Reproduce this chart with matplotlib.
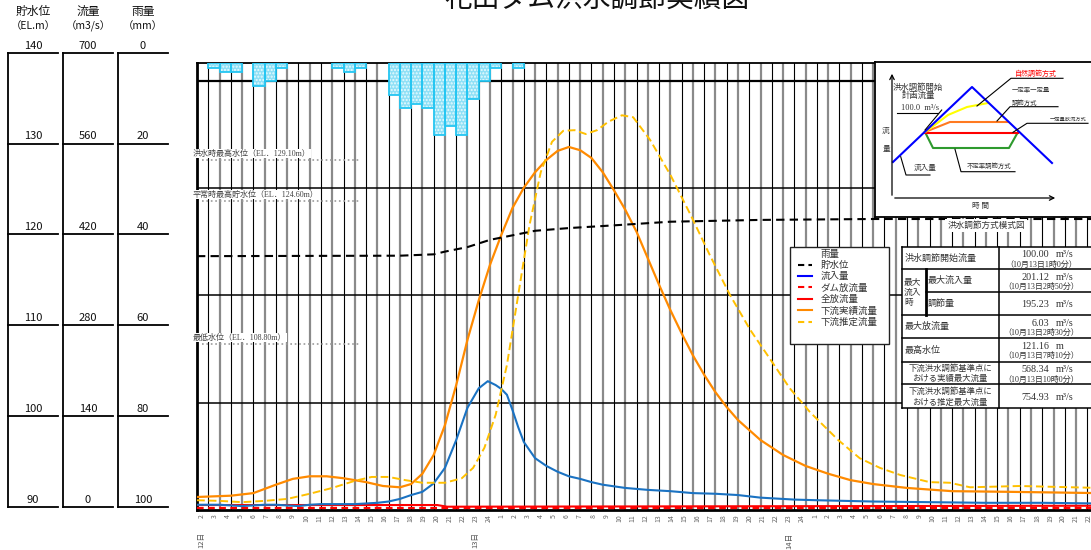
import numpy as np
import matplotlib
matplotlib.use("Agg")
import matplotlib.pyplot as plt
import matplotlib.transforms as mtransforms
from matplotlib.lines import Line2D
from matplotlib.patches import Rectangle

plt.rcParams['font.family'] = ['Noto Sans CJK JP', 'DejaVu Sans']
plt.rcParams['hatch.linewidth'] = 1.0

# ---------------- data (time = hours since 10/12 1:00) ----------------
rain_mm = [0, 1, 2, 2, 0, 5, 4, 1, 0, 0, 0, 0, 1, 2, 1, 0, 0,
           7, 10, 9, 10, 16, 14, 16, 8, 4, 1, 0, 1]

inflow_h = [0, 1, 2, 3, 4, 5, 6, 7, 8, 9, 10, 11, 12, 13, 14, 15, 16, 17, 18, 19,
            20, 21, 22, 23, 24, 25, 25.8, 26.5, 27, 27.5, 28, 28.5, 29,
            30, 31, 32, 33, 34, 35, 36, 38, 40, 42, 44, 46, 48, 50,
            53, 55, 60, 65, 70, 75, 80]
inflow_q = [5, 5, 5, 4, 3, 4, 5, 5, 4, 3, 5, 6, 6, 6, 6, 7, 8, 10, 14, 20,
            25, 38, 62, 105, 155, 185, 196, 190, 184, 175, 151, 125, 102,
            77, 65, 56, 49, 45, 40, 36, 31, 28, 26, 23, 22, 20, 16,
            13, 12, 10, 9, 8, 8, 7]

actual_h = [0, 3, 5, 7, 8.5, 10, 11.5, 13, 15, 16.5, 18,
            19, 20, 21, 22, 23, 24, 25, 26, 27, 28,
            29, 30, 31, 32, 33, 34, 35, 36, 37, 38,
            39, 40, 41, 42, 43, 44, 45, 46, 47, 48,
            50, 52, 54, 56, 58, 60, 63, 67, 72, 80]
actual_q = [17, 19, 23, 36, 45, 49, 49, 46, 40, 34, 32,
            37, 53, 82, 128, 190, 260, 321, 376, 422, 464,
            495, 519, 538, 552, 558, 553, 541, 519, 491, 461,
            427, 386, 345, 306, 270, 236, 206, 179, 156, 136,
            105, 82, 65, 53, 43, 37, 31, 26, 25, 23]

estim_h = [0, 2, 4, 6, 8, 10, 12, 14, 15.5, 17, 18.5, 20, 22, 23.5,
           24.5, 25.5, 26.5, 27.5, 28.5, 29.5, 30.5, 31.5, 32.5, 33.5, 34.5, 35.5, 36.5,
           37.7, 38.7, 40.2, 42, 43.8, 45.5, 47.3, 49.1, 50.9, 52.6, 54.4, 56.9,
           58.8, 60.6, 62.4, 65, 66.8, 68.6, 73, 80]
estim_q = [12, 11, 9, 11, 14, 22, 31, 42, 48, 48, 43, 39, 39, 46,
           62, 93, 144, 221, 329, 437, 519, 566, 583, 584, 578, 584, 597,
           607, 604, 569, 515, 453, 391, 329, 275, 229, 185, 148, 105,
           77, 62, 51, 40, 39, 32, 34, 31]

level_h = [0, 18, 21, 22, 24, 26, 28, 30, 33, 37, 42, 50, 60, 80]
level_m = [117.8, 117.85, 118.0, 118.3, 118.8, 119.6, 120.1, 120.6, 120.9,
           121.2, 121.6, 121.8, 121.9, 121.9]

total_h = [0, 21.3, 22.2, 80]
total_q = [4.6, 4.6, 2.0, 3.5]
dam_h = [0, 80]
dam_q = [0.5, 0.5]

ref_names = ['洪水時最高水位', '平常時最高貯水位', '最低水位']
ref_levels = [129.10, 124.60, 108.80]

hour_labels = ([str(h) for h in range(2, 25)] + [str(h) for h in range(1, 25)]
               + [str(h) for h in range(1, 23)])
day_labels = ['12日', '13日', '14日']
day_label_at = [0, 21, 45]

level_ticks = [140, 130, 120, 110, 100, 90]
flow_ticks = [700, 560, 420, 280, 140, 0]
rain_ticks = [0, 20, 40, 60, 80, 100]

table_labels = ['洪水調節開始流量', '最大流入量', '調節量', '最大放流量', '最高水位',
                '下流洪水調節基準点に\nおける実績最大流量',
                '下流洪水調節基準点に\nおける推定最大流量']
table_values = ['100.00', '201.12', '195.23', '6.03', '121.16', '568.34', '754.93']
table_units = ['m³/s', 'm³/s', 'm³/s', 'm³/s', 'm', 'm³/s', 'm³/s']
table_dates = ['（10月13日1時0分）', '（10月13日2時50分）', '', '（10月13日2時30分）',
               '（10月13日7時10分）', '（10月13日10時0分）', '']

# ---------------- figure ----------------
W, H = 1091, 550
fig = plt.figure(figsize=(W / 100, H / 100), dpi=100)
fig.patch.set_facecolor('white')


def px_axes(x0, y0, x1, y1, **kw):
    return fig.add_axes([x0 / W, 1 - y1 / H, (x1 - x0) / W, (y1 - y0) / H], **kw)


def strip(a):
    for s in a.spines.values():
        s.set_visible(False)
    a.tick_params(left=False, bottom=False, labelleft=False, labelbottom=False,
                  top=False, right=False, labeltop=False, labelright=False)


BLUE = '#1a72c2'
ORANGE = '#ff8a00'
YELLOW = '#ffc000'
RED = '#ff0000'
TXT = '#333333'
SERIF = ['Liberation Serif', 'Noto Sans CJK JP']

# title (cut at top of the image, as in the original)
fig.text(597 / W, 1 + 1 / H, '花山ダム洪水調節実績図', ha='center', va='center',
         fontsize=20, color='#111111')

# ---------------- left scale panels ----------------
panels = [(8, '貯水位', '（EL.m）', level_ticks, (90, 140)),
          (63, '流量', '（m3/s）', flow_ticks, (0, 700)),
          (118, '雨量', '（mm）', rain_ticks, (100, 0))]
for x0, head, unit, ticks, lim in panels:
    pa = px_axes(x0, 52.7, x0 + 50, 506.7)
    pa.set_ylim(*lim)
    pa.set_xlim(0, 1)
    pa.patch.set_visible(False)
    strip(pa)
    pa.spines['left'].set_visible(True)
    pa.spines['left'].set_linewidth(1.3)
    for t in ticks:
        pa.axhline(t, 0, 1, color='black', lw=1.3, clip_on=False)
        pa.annotate(str(t), (0.5, t), xytext=(0, 1.5), textcoords='offset points',
                    ha='center', va='bottom', fontsize=8, color='#111111',
                    annotation_clip=False)
    fig.text((x0 + 25) / W, 1 - 11 / H, head, ha='center', va='center',
             fontsize=8.5, color='#111111')
    fig.text((x0 + 25) / W, 1 - 26 / H, unit, ha='center', va='center',
             fontsize=7.5, color='#111111')

# ---------------- main axes ----------------
X0, X1, Y0, Y1 = 197, 1100, 63, 510
PX_PER_H = 11.27
ax = px_axes(X0, Y0, X1, Y1)
ax.set_xlim(0, (X1 - X0) / PX_PER_H)
ax.set_ylim(-3.1, 687.8)
ax.set_xticks([])
ax.set_yticks([])
for s in ['left', 'bottom']:
    ax.spines[s].set_linewidth(2.0)
ax.spines['top'].set_linewidth(1.3)
ax.spines['right'].set_visible(False)

nh = int(ax.get_xlim()[1]) + 1
for h in range(1, nh):
    if h % 2:
        ax.axvline(h, color='black', lw=0.8, zorder=0.5)
    else:
        ax.axvline(h, color='#8a8a8a', lw=1.6, zorder=0.5)
hgrid = [163, 329, 494, 660]
for i, g in enumerate(hgrid):
    ax.axhline(g, color='black', lw=1.6 if i == len(hgrid) - 1 else 1.1, zorder=0.6)

ax.plot(dam_h, dam_q, color=RED, lw=1.6, dashes=(3, 2), zorder=3, clip_on=False)
ax.plot(total_h, total_q, color=RED, lw=1.5, zorder=3)
ax.plot(inflow_h, inflow_q, color=BLUE, lw=1.5, zorder=3)
ax.plot(actual_h, actual_q, color=ORANGE, lw=1.6, zorder=3)
ax.plot(estim_h, estim_q, color=YELLOW, lw=1.4, dashes=(4, 2), zorder=3)

# rain (hanging from the top)
ax_rn = ax.twinx()
ax_rn.set_ylim(98.7, 0)
strip(ax_rn)
ax_rn.patch.set_visible(False)
idx = [i for i, r in enumerate(rain_mm) if r > 0]
vals = [rain_mm[i] for i in idx]
ax_rn.bar(idx, vals, width=1, align='edge', color='#8fe0f6', edgecolor='#e8fbff',
          hatch='.....', lw=0, zorder=2)
ax_rn.bar(idx, vals, width=1, align='edge', fill=False, edgecolor='#25c6f2',
          lw=1.3, zorder=2.1)

# water level
ax_lv = ax.twinx()
ax_lv.set_ylim(89.78, 139.12)
strip(ax_lv)
ax_lv.patch.set_visible(False)
ax_lv.plot(level_h, level_m, color='black', lw=1.5, dashes=(4, 2.5), zorder=3)
down = mtransforms.ScaledTranslation(0, -6 / 100, fig.dpi_scale_trans)
for name, el in zip(ref_names, ref_levels):
    ax_lv.text(-0.35, el, f'{name}（EL．{el:.2f}m）', ha='left', va='center',
               fontsize=5.8, color='#444444', family=SERIF, clip_on=False, zorder=4,
               bbox=dict(facecolor='white', edgecolor='none', pad=0.3))
    ax_lv.plot([0.45, 14.5], [el, el], transform=ax_lv.transData + down,
               color='#9a9a9a', lw=1.2, ls=':', zorder=4)

# hour / day labels (their own spacing)
LAB0, LAB_PX = 201.7, 13.05
ax_lab = ax.twiny()
ax_lab.set_xlim((X0 - LAB0) / LAB_PX, (X1 - LAB0) / LAB_PX)
for s in ax_lab.spines.values():
    s.set_visible(False)
ax_lab.xaxis.set_ticks_position('bottom')
ax_lab.set_xticks(range(len(hour_labels)))
ax_lab.set_xticklabels(hour_labels)
ax_lab.tick_params(axis='x', length=0, pad=3, labelsize=5, labelcolor='#666666',
                   labelrotation=90)
for lab, k in zip(day_labels, day_label_at):
    ax_lab.text(k, -0.068, lab, transform=ax_lab.get_xaxis_transform(),
                ha='center', va='center', rotation=90, fontsize=5.5, color='#555555')

# ---------------- legend ----------------
fig.patches.append(Rectangle((790 / W, 1 - 344 / H), 99 / W, 96.7 / H,
                             transform=fig.transFigure, facecolor='white',
                             edgecolor='#222222', lw=1.0, zorder=4))
handles = [Line2D([], [], ls='none'),
           Line2D([], [], color='black', lw=1.5, dashes=(3, 2)),
           Line2D([], [], color='#0000ff', lw=1.5),
           Line2D([], [], color=RED, lw=1.5, dashes=(3, 2)),
           Line2D([], [], color=RED, lw=1.5),
           Line2D([], [], color=ORANGE, lw=1.5),
           Line2D([], [], color=YELLOW, lw=1.5, dashes=(3, 2))]
labels = ['雨量', '貯水位', '流入量', 'ダム放流量', '全放流量', '下流実績流量', '下流推定流量']
leg = fig.legend(handles, labels, loc='upper left',
                 bbox_to_anchor=(798 / W, 1 - 249.5 / H), frameon=False,
                 fontsize=6.8, handlelength=1.45, handletextpad=0.95,
                 labelspacing=0.24, borderpad=0, borderaxespad=0)
for t in leg.get_texts():
    t.set_color(TXT)

# ---------------- inset: schematic ----------------
ins = px_axes(875, 62, 1100, 217)
ins.set_xlim(875, 1100)
ins.set_ylim(217, 62)
ins.set_xticks([])
ins.set_yticks([])
ins.set_zorder(3)
for s in ins.spines.values():
    s.set_linewidth(1.3)


def seg(pts, **kw):
    xs, ys = zip(*pts)
    ins.plot(xs, ys, **kw)


arrow = dict(arrowstyle='->', color='black', lw=0.9, mutation_scale=8)
ins.annotate('', xy=(892, 71), xytext=(892, 198), arrowprops=arrow)
ins.annotate('', xy=(1058, 198), xytext=(892, 198), arrowprops=arrow)
seg([(925, 132), (933, 148), (1009, 148), (1018, 132)], color='#2e9a2e', lw=1.5)
seg([(925, 132.7), (1018, 132.7)], color=RED, lw=1.5)
seg([(925, 132), (950, 122), (1008, 122)], color='#ff7a20', lw=1.5)
seg([(925, 132), (936, 124), (948, 115), (967, 107), (988, 103)], color='#ffff00', lw=1.5)
seg([(893, 162), (972, 87), (1052, 163)], color='#0000ff', lw=1.5)
k = dict(color='black', lw=0.8)
seg([(977, 106), (1011, 78.3), (1063, 78.3)], **k)
seg([(997, 121), (1010, 106.7), (1058, 106.7)], **k)
seg([(1013, 132.3), (1027, 123.3), (1088, 123.3)], **k)
seg([(955, 149.3), (961, 171.7), (1015, 171.7)], **k)
seg([(900.7, 156.7), (906, 175), (930, 175)], **k)
seg([(896.7, 112.7), (938.3, 112.7)], **k)
seg([(941.7, 110), (925, 130)], **k)
tk = dict(color=TXT, va='center')
ins.text(1036, 73.5, '自然調節方式', ha='center', fontsize=5.0, color='#ff0000', va='center')
ins.text(1012, 90, '一定率一定量', ha='left', fontsize=4.6, **tk)
ins.text(1012, 102.5, '調節方式', ha='left', fontsize=4.6, **tk)
ins.text(1087, 119.5, '一定量放流方式', ha='right', fontsize=3.8, **tk)
ins.text(989, 166, '不定率調節方式', ha='center', fontsize=4.6, **tk)
ins.text(925, 168.3, '流入量', ha='center', fontsize=5.5, **tk)
ins.text(918, 87.3, '洪水調節開始', ha='center', fontsize=6.0, **tk)
ins.text(918, 95.7, '計画流量', ha='center', fontsize=6.0, **tk)
ins.text(920, 108, '100.0  m³/s', ha='center', fontsize=6.0, family=SERIF, **tk)
ins.text(886, 130.7, '流', ha='center', fontsize=5.5, **tk)
ins.text(886, 149.3, '量', ha='center', fontsize=5.5, **tk)
ins.text(980, 205.7, '時 間', ha='center', fontsize=5.5, **tk)

fig.text(986 / W, 1 - 225.7 / H, '洪水調節方式模式図', ha='center', va='center',
         fontsize=6.2, color=TXT, zorder=5,
         bbox=dict(facecolor='white', edgecolor='none', pad=1.5))

# ---------------- table ----------------
rows_y = [246.7, 269.3, 292.3, 315.0, 338.3, 361.7, 384.3, 408.3]
TX0, TXM, TXV, TX1 = 902, 925.7, 999, 1100
tab = px_axes(TX0, rows_y[0], TX1, rows_y[-1])
tab.set_xlim(TX0, TX1)
tab.set_ylim(rows_y[-1], rows_y[0])
tab.set_zorder(3)
strip(tab)
tab.patch.set_facecolor('white')
lk = dict(color='black', lw=1.1, clip_on=False)
tab.plot([TX0, TX0], [rows_y[0], rows_y[-1]], **lk)
tab.plot([TXV, TXV], [rows_y[0], rows_y[-1]], **lk)
tab.plot([TXM, TXM], [rows_y[1], rows_y[3]], color='black', lw=2.0)
for i, y in enumerate(rows_y):
    xs = TXM if i == 2 else TX0
    tab.plot([xs, TX1], [y, y], **lk)

tab.text(904, (rows_y[1] + rows_y[3]) / 2, '最大\n流入\n時', ha='left', va='center',
         fontsize=6.3, color=TXT, linespacing=1.15)
for i, (lab, val, unit, date) in enumerate(zip(table_labels, table_values,
                                               table_units, table_dates)):
    top, bot = rows_y[i], rows_y[i + 1]
    mid = (top + bot) / 2
    if '\n' in lab:
        tab.text(950, mid + 0.5, lab, ha='center', va='center', fontsize=6.0,
                 color=TXT, linespacing=1.2)
    elif i in (1, 2):
        tab.text(928, mid, lab, ha='left', va='center', fontsize=6.5, color=TXT)
    else:
        tab.text(905, mid, lab, ha='left', va='center', fontsize=6.5, color=TXT)
    vy = top + 8.3 if date else mid + 1
    tab.text(1049, vy, val, ha='right', va='center', fontsize=7.3, color=TXT,
             family=SERIF)
    tab.text(1056, vy, unit, ha='left', va='center', fontsize=7.3, color=TXT,
             family=SERIF)
    if date:
        tab.text(1041, top + 17.7, date, ha='center', va='center', fontsize=5.8,
                 color=TXT, family=SERIF)

fig.savefig('out.png', dpi=100, facecolor='white')
